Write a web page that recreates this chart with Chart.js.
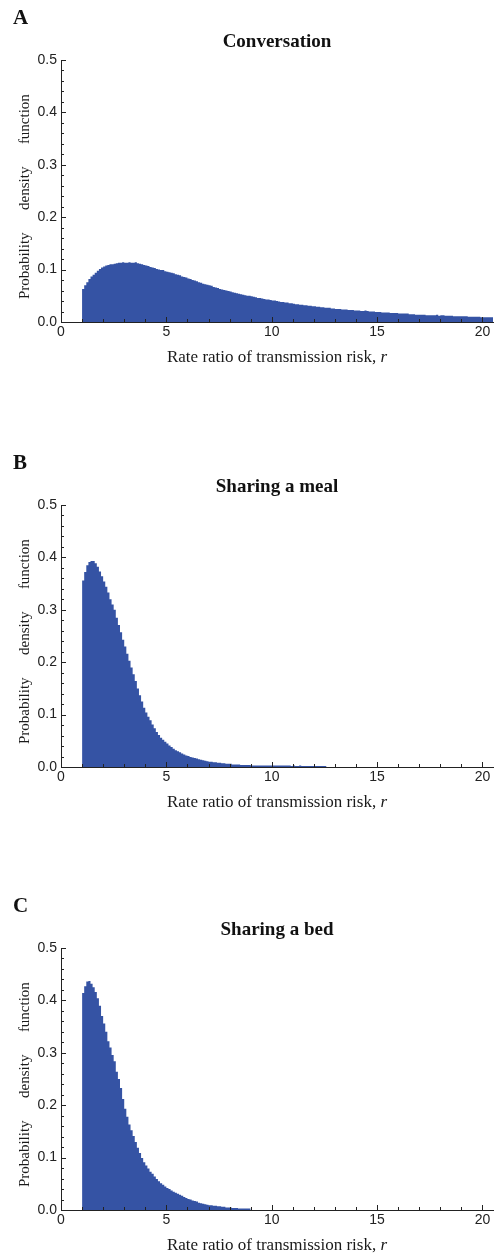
<!DOCTYPE html>
<html>
<head>
<meta charset="utf-8">
<script src="https://cdn.jsdelivr.net/npm/chart.js@4.4.1/dist/chart.umd.min.js"></script>
<style>
  html, body { margin: 0; padding: 0; background: #fff; }
  body { width: 494px; height: 1258px; position: relative; overflow: hidden; }
  .panel { position: absolute; left: 0; width: 494px; height: 370px; }
  .panel canvas { display: block; }
</style>
</head>
<body>
<div class="panel" style="top:0px"><canvas id="panelA" width="494" height="370"></canvas></div>
<div class="panel" style="top:445px"><canvas id="panelB" width="494" height="370"></canvas></div>
<div class="panel" style="top:888px"><canvas id="panelC" width="494" height="370"></canvas></div>
<script>
// Histogram bins: left edge of the first bin and the bin width (rate ratio r)
const binStart = 1.0;
const binWidth = 0.1;

// Probability density per bin, r = 1.0, 1.1, 1.2, ...
const conversation = [
  0.058, 0.063, 0.070, 0.076, 0.082, 0.087, 0.090, 0.094, 0.098, 0.101,
  0.104, 0.106, 0.108, 0.109, 0.110, 0.110, 0.111, 0.112, 0.113, 0.113,
  0.114, 0.113, 0.113, 0.114, 0.113, 0.113, 0.114, 0.112, 0.111, 0.110,
  0.109, 0.108, 0.107, 0.105, 0.104, 0.103, 0.101, 0.100, 0.099, 0.099,
  0.097, 0.096, 0.095, 0.094, 0.093, 0.091, 0.090, 0.089, 0.087, 0.086,
  0.085, 0.083, 0.082, 0.080, 0.079, 0.078, 0.076, 0.075, 0.073, 0.072,
  0.071, 0.070, 0.069, 0.067, 0.066, 0.065, 0.063, 0.062, 0.061, 0.060,
  0.059, 0.058, 0.057, 0.056, 0.055, 0.054, 0.053, 0.052, 0.051, 0.050,
  0.050, 0.049, 0.048, 0.047, 0.046, 0.046, 0.045, 0.044, 0.043, 0.043,
  0.042, 0.041, 0.041, 0.040, 0.039, 0.038, 0.038, 0.037, 0.037, 0.036,
  0.036, 0.035, 0.034, 0.034, 0.033, 0.033, 0.032, 0.032, 0.031, 0.031,
  0.030, 0.030, 0.029, 0.029, 0.028, 0.028, 0.027, 0.027, 0.027, 0.026,
  0.026, 0.025, 0.025, 0.025, 0.024, 0.024, 0.024, 0.023, 0.023, 0.023,
  0.022, 0.022, 0.022, 0.021, 0.021, 0.022, 0.021, 0.020, 0.020, 0.020,
  0.019, 0.019, 0.019, 0.018, 0.018, 0.018, 0.018, 0.017, 0.017, 0.017,
  0.017, 0.016, 0.016, 0.016, 0.016, 0.016, 0.015, 0.015, 0.015, 0.014,
  0.014, 0.014, 0.014, 0.014, 0.013, 0.013, 0.013, 0.013, 0.013, 0.014,
  0.012, 0.013, 0.013, 0.012, 0.012, 0.012, 0.012, 0.011, 0.011, 0.011,
  0.011, 0.011, 0.011, 0.011, 0.010, 0.010, 0.010, 0.010, 0.010, 0.010,
  0.009, 0.009, 0.009, 0.009, 0.009
];

const sharingMeal = [
  0.338, 0.356, 0.372, 0.385, 0.391, 0.393, 0.393, 0.389, 0.382, 0.373,
  0.364, 0.354, 0.344, 0.333, 0.320, 0.310, 0.300, 0.285, 0.271, 0.257,
  0.243, 0.230, 0.216, 0.203, 0.190, 0.177, 0.164, 0.150, 0.137, 0.125,
  0.113, 0.104, 0.096, 0.089, 0.081, 0.074, 0.067, 0.061, 0.056, 0.052,
  0.048, 0.045, 0.041, 0.038, 0.035, 0.032, 0.030, 0.028, 0.026, 0.024,
  0.022, 0.021, 0.019, 0.018, 0.017, 0.016, 0.015, 0.014, 0.013, 0.012,
  0.011, 0.010, 0.010, 0.009, 0.009, 0.008, 0.008, 0.007, 0.007, 0.006,
  0.006, 0.006, 0.005, 0.005, 0.005, 0.005, 0.004, 0.004, 0.004, 0.004,
  0.004, 0.003, 0.003, 0.003, 0.003, 0.003, 0.003, 0.003, 0.003, 0.003,
  0.003, 0.003, 0.003, 0.003, 0.003, 0.003, 0.003, 0.003, 0.003, 0.003,
  0.002, 0.003, 0.002, 0.002, 0.003, 0.002, 0.002, 0.002, 0.002, 0.002,
  0.002, 0.002, 0.002, 0.002, 0.002, 0.002
];

const sharingBed = [
  0.397, 0.414, 0.427, 0.436, 0.437, 0.432, 0.425, 0.416, 0.404, 0.390,
  0.370, 0.356, 0.340, 0.322, 0.310, 0.296, 0.284, 0.264, 0.250, 0.233,
  0.212, 0.193, 0.178, 0.163, 0.152, 0.141, 0.130, 0.119, 0.109, 0.099,
  0.091, 0.085, 0.079, 0.073, 0.069, 0.064, 0.059, 0.055, 0.051, 0.048,
  0.045, 0.042, 0.040, 0.037, 0.035, 0.033, 0.031, 0.029, 0.027, 0.025,
  0.023, 0.021, 0.020, 0.018, 0.017, 0.016, 0.014, 0.013, 0.012, 0.011,
  0.010, 0.009, 0.009, 0.008, 0.008, 0.007, 0.007, 0.006, 0.006, 0.005,
  0.005, 0.005, 0.004, 0.004, 0.004, 0.003, 0.003, 0.003, 0.003, 0.003
];

// Axis tick labels
const xTickValues = [0, 5, 10, 15, 20];
const yTickValues = [0.0, 0.1, 0.2, 0.3, 0.4, 0.5];

const panelLetters = ['A', 'B', 'C'];
const panelTitles = ['Conversation', 'Sharing a meal', 'Sharing a bed'];
const xAxisTitle = 'Rate ratio of transmission risk, ';
const xAxisVariable = 'r';
const yAxisTitle = 'Probability      density      function   ';

const FILL = '#3553a4';
const INK = '#222222';
const SERIF = '"Liberation Serif", "Times New Roman", serif';
const SANS = '"Liberation Sans", Arial, sans-serif';

// Step outline of a histogram: one point per bin left edge plus the closing edge
function histogramPoints(values) {
  const pts = values.map((v, i) => ({ x: binStart + i * binWidth, y: v }));
  pts.push({ x: binStart + values.length * binWidth, y: values[values.length - 1] });
  return pts;
}

// Panel letter, centred title, italic-aware x title and inward tick marks
const decorations = {
  id: 'decorations',
  afterDatasetsDraw(chart, args, opts) {
    const { ctx, chartArea: area, scales: { x, y } } = chart;
    ctx.save();
    ctx.strokeStyle = INK;
    ctx.lineWidth = 1;
    ctx.beginPath();
    for (let v = 1; v <= 20; v += 1) {
      const px = Math.round(x.getPixelForValue(v)) + 0.5;
      const len = v % 5 === 0 ? 5 : 3;
      ctx.moveTo(px, area.bottom);
      ctx.lineTo(px, area.bottom - len);
    }
    for (let k = 1; k <= 25; k += 1) {
      const py = Math.round(y.getPixelForValue(k * 0.02)) + 0.5;
      const len = k % 5 === 0 ? 5 : 3;
      ctx.moveTo(area.left, py);
      ctx.lineTo(area.left + len, py);
    }
    ctx.stroke();
    ctx.restore();
  },
  afterDraw(chart, args, opts) {
    const { ctx, chartArea: area } = chart;
    const cx = (area.left + area.right) / 2;
    ctx.save();
    ctx.fillStyle = '#111';
    ctx.textBaseline = 'alphabetic';

    ctx.font = 'bold 21px ' + SERIF;
    ctx.textAlign = 'left';
    ctx.fillText(opts.letter, 13, 24);

    ctx.font = 'bold 19px ' + SERIF;
    ctx.textAlign = 'center';
    ctx.fillText(opts.title, cx, 47);

    ctx.fillStyle = '#1a1a1a';
    ctx.textAlign = 'left';
    const plainFont = '17px ' + SERIF;
    const italicFont = 'italic 17px ' + SERIF;
    ctx.font = plainFont;
    const w1 = ctx.measureText(xAxisTitle).width;
    ctx.font = italicFont;
    const w2 = ctx.measureText(xAxisVariable).width;
    const startX = cx - (w1 + w2) / 2;
    ctx.font = plainFont;
    ctx.fillText(xAxisTitle, startX, 362);
    ctx.font = italicFont;
    ctx.fillText(xAxisVariable, startX + w1, 362);
    ctx.restore();
  }
};

function makePanel(canvasId, idx, values) {
  new Chart(document.getElementById(canvasId), {
    type: 'line',
    data: {
      datasets: [{
        data: histogramPoints(values),
        stepped: 'after',
        fill: 'origin',
        backgroundColor: FILL,
        borderWidth: 0,
        pointRadius: 0,
        pointHoverRadius: 0
      }]
    },
    options: {
      responsive: false,
      animation: false,
      devicePixelRatio: 1,
      events: [],
      layout: { padding: { top: 60, right: 1, left: 0, bottom: 0 } },
      plugins: {
        legend: { display: false },
        tooltip: { enabled: false },
        decorations: { letter: panelLetters[idx], title: panelTitles[idx] }
      },
      scales: {
        x: {
          type: 'linear',
          min: 0,
          max: 20.5,
          z: 1,
          afterFit: s => { s.height = 48; },
          afterBuildTicks: s => { s.ticks = xTickValues.map(v => ({ value: v })); },
          grid: { display: false, drawTicks: false },
          border: { display: true, color: INK, width: 1 },
          ticks: {
            padding: 2,
            maxRotation: 0,
            autoSkip: false,
            color: INK,
            font: { family: SANS, size: 14 },
            callback: v => String(v)
          }
        },
        y: {
          min: 0,
          max: 0.5,
          z: 1,
          afterFit: s => { s.width = 61; },
          afterBuildTicks: s => { s.ticks = yTickValues.map(v => ({ value: v })); },
          grid: { display: false, drawTicks: false },
          border: { display: true, color: INK, width: 1 },
          ticks: {
            padding: 4,
            autoSkip: false,
            color: INK,
            font: { family: SANS, size: 14 },
            callback: v => Number(v).toFixed(1)
          },
          title: {
            display: true,
            text: yAxisTitle,
            color: '#1a1a1a',
            font: { family: SERIF, size: 15 },
            padding: { top: 16, bottom: 0 }
          }
        }
      }
    },
    plugins: [decorations]
  });
}

makePanel('panelA', 0, conversation);
makePanel('panelB', 1, sharingMeal);
makePanel('panelC', 2, sharingBed);
</script>
</body>
</html>
